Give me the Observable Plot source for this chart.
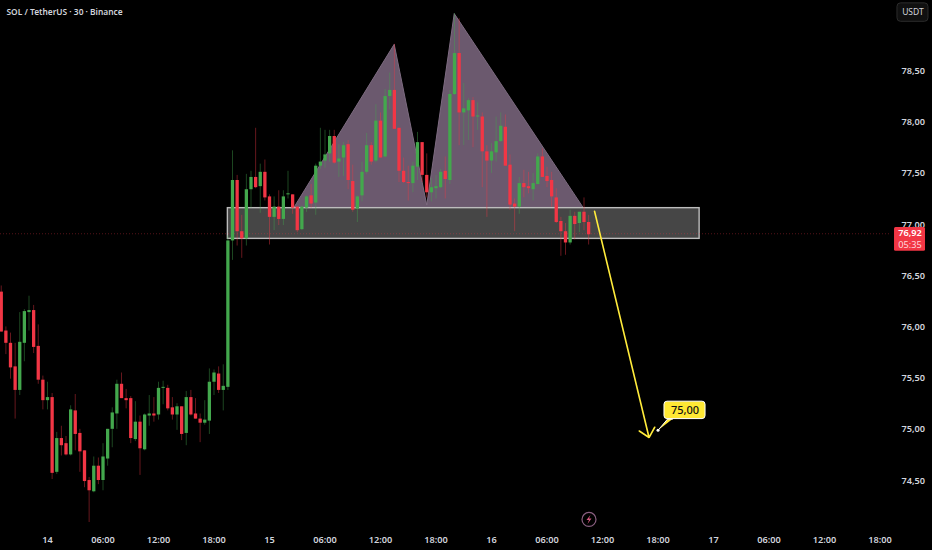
<!DOCTYPE html>
<html>
<head>
<meta charset="utf-8">
<script src="https://cdn.jsdelivr.net/npm/d3@7"></script>
<script src="https://cdn.jsdelivr.net/npm/@observablehq/plot@0.6"></script>
<style>
html,body{margin:0;padding:0;background:#000;}
svg{display:block;}
</style>
</head>
<body>
<div id="chart"></div>
<script>
// Half-hourly candles, first one at -5 h relative to 14th 00:00
const firstHour = -5;
const opens = [76.35,75.97,75.85,75.62,75.39,75.85,76.15,76.17,75.82,75.49,75.29,75.32,74.59,74.92,74.87,74.76,75.19,74.97,74.80,74.51,74.40,74.65,74.51,74.72,75.01,75.16,75.45,75.31,75.31,74.91,75.08,74.81,75.14,75.16,75.15,75.41,75.41,75.22,75.15,75.23,74.97,75.32,75.16,75.11,75.07,75.09,75.47,75.55,75.39,75.42,
76.85,77.44,76.94,76.87,77.35,77.47,77.38,77.52,77.28,77.08,77.18,77.06,77.30,77.30,77.18,76.96,77.17,77.29,77.22,77.58,77.63,77.70,77.87,77.62,77.66,77.79,77.43,77.16,77.29,77.52,77.78,77.63,78.02,77.67,78.26,78.32,77.95,77.53,77.42,77.41,77.57,77.81,77.49,77.32,77.36,77.37,77.53,77.44,78.28,78.68,78.10,78.12,78.22,78.06,78.06,77.72,77.63,77.71,77.82,77.96,77.59,77.21,77.18,77.41,77.38,77.35,77.40,77.67,77.48,77.44,77.27,77.04,76.94,76.83,77.09,77.02,77.13,77.03];
const closes = [75.96,75.85,75.61,75.39,75.86,76.16,76.17,75.81,75.49,75.29,75.32,74.58,74.92,74.85,74.76,75.20,74.96,74.79,74.50,74.41,74.65,74.51,74.74,75.01,75.17,75.45,75.31,75.29,74.92,75.08,74.82,75.15,75.16,75.14,75.41,75.42,75.21,75.15,75.23,74.96,75.32,75.15,75.11,75.07,75.10,75.47,75.56,75.39,75.43,76.85,
77.44,76.94,76.87,77.35,77.47,77.37,77.52,77.27,77.08,77.18,77.06,77.28,77.31,77.17,76.95,77.18,77.28,77.21,77.58,77.62,77.69,77.87,77.61,77.65,77.78,77.44,77.15,77.28,77.52,77.78,77.62,78.02,77.66,78.26,78.32,77.94,77.53,77.42,77.41,77.58,77.81,77.49,77.32,77.37,77.38,77.52,77.45,78.28,78.68,78.10,78.14,78.22,78.06,78.07,77.72,77.63,77.72,77.82,77.97,77.58,77.20,77.18,77.41,77.37,77.36,77.41,77.67,77.47,77.43,77.28,77.03,76.94,76.83,77.09,77.01,77.13,77.03,76.91];
const highs = [76.41,76.01,75.95,75.85,76.15,76.18,76.31,76.22,76.03,75.53,75.47,75.36,74.98,75.04,74.94,75.24,75.35,75.01,74.80,74.54,74.74,74.73,74.87,75.01,75.22,75.49,75.56,75.40,75.33,75.28,75.14,75.16,75.34,75.32,75.47,75.48,75.44,75.32,75.26,75.23,75.38,75.39,75.31,75.16,75.29,75.60,75.59,75.62,75.64,76.90,
77.73,77.49,77.10,77.50,77.53,77.95,77.60,77.64,77.30,77.28,77.34,77.34,77.53,77.30,77.18,77.19,77.29,77.40,77.60,77.95,77.93,77.93,77.93,77.79,77.81,77.83,77.59,77.29,77.62,77.90,77.81,78.18,78.10,78.33,78.49,78.77,77.95,77.66,77.58,77.62,77.91,77.81,77.70,77.46,77.49,77.55,77.67,78.32,79.07,79.02,78.39,78.24,78.25,78.20,78.10,77.78,77.80,78.06,78.10,78.08,77.69,77.26,77.47,77.54,77.52,77.51,77.70,77.75,77.57,77.52,77.36,77.08,77.02,77.15,77.13,77.13,77.27,77.10];
const lows = [75.96,75.74,75.50,75.11,75.34,75.67,75.97,75.75,75.45,75.20,75.20,74.52,74.57,74.75,74.75,74.75,74.80,74.59,74.44,74.10,74.39,74.47,74.41,74.65,74.83,75.01,75.31,75.21,74.87,74.89,74.56,74.80,75.04,75.08,75.10,75.25,75.19,75.10,75.00,74.90,74.85,75.14,75.11,74.88,75.05,74.96,75.34,75.36,75.19,75.39,
76.66,76.80,76.68,76.80,77.17,77.36,77.12,77.24,76.81,76.95,77.00,77.00,77.26,77.11,76.93,76.95,77.13,77.17,77.10,77.55,77.56,77.62,77.60,77.47,77.48,77.35,77.13,77.03,77.23,77.50,77.59,77.61,77.66,77.66,78.13,77.94,77.42,77.41,77.24,77.32,77.44,77.42,77.27,77.23,77.26,77.36,77.26,77.40,78.27,77.78,77.78,77.83,77.76,77.93,77.37,77.08,77.51,77.62,77.81,77.58,77.15,76.94,77.11,77.27,77.31,77.24,77.40,77.47,77.37,77.18,77.02,76.70,76.71,76.81,76.86,76.93,76.95,76.81];

const priceTicks = [74.5,75,75.5,76,76.5,77,77.5,78,78.5];
const timeTicks = [0,6,12,18,24,30,36,42,48,54,60,66,72,78,84,90];
const timeLabels = ["14","06:00","12:00","18:00","15","06:00","12:00","18:00","16","06:00","12:00","18:00","17","06:00","12:00","18:00"];

const patternHours = [26.59,37.48,41.0,43.97,57.95];
const patternPrices = [77.17,78.77,77.20,79.07,77.17];
const zoneHours = [19.5,70.5];
const zonePrices = [76.87,77.17];
const arrowHours = [59.14,65.03];
const arrowPrices = [77.14,74.93];
const lastPrice = 76.92;
const title = "SOL / TetherUS · 30 · Binance";
const boltHours = [58.70,58.27,58.54,58.38,58.81,58.54];
const boltPrices = [74.174,74.125,74.125,74.086,74.138,74.138];

const up = "#43a84d", down = "#f23645";
const font = "'Noto Sans', sans-serif";
const idx = d3.range(opens.length);
const hour = i => firstHour + i * 0.5;
const colorOf = i => closes[i] >= opens[i] ? up : down;
const pattern = patternHours.map((h, i) => ({h, p: patternPrices[i]}));
const bolt = boltHours.map((h, i) => ({h, p: boltPrices[i]}));
const tail = [{h:66.0,p:75.0},{h:67.03,p:75.11},{h:67.57,p:75.11}];

const chart = Plot.plot({
  width: 932, height: 550,
  marginLeft: 0, marginRight: 42, marginTop: 0, marginBottom: 20,
  x: {domain: [-47/9.25, 843/9.25]},
  y: {domain: [74.022, 79.198]},
  color: {type: "identity"},
  style: {background: "#000", color: "#d1d4dc", fontFamily: font, fontSize: "9.2px", overflow: "visible"},
  marks: [
    Plot.line(pattern, {x: "h", y: "p", fill: "#6b596e", stroke: "#7d6b80", strokeWidth: 1}),
    Plot.rect([0], {x1: () => zoneHours[0], x2: () => zoneHours[1], y1: () => zonePrices[0], y2: () => zonePrices[1],
      fill: "#464646", stroke: "#bdbdbd", strokeWidth: 1.4}),
    Plot.ruleY([lastPrice], {stroke: down, strokeOpacity: 0.35, strokeDasharray: "1 2"}),
    Plot.ruleX(idx, {x: hour, y1: i => lows[i], y2: i => highs[i], stroke: colorOf, strokeOpacity: 0.42, strokeWidth: 1}),
    Plot.ruleX(idx, {x: hour, y1: i => opens[i], y2: i => closes[i], stroke: colorOf, strokeWidth: 3.3}),
    Plot.arrow([0], {x1: () => arrowHours[0], y1: () => arrowPrices[0], x2: () => arrowHours[1], y2: () => arrowPrices[1],
      stroke: "#ffeb3b", strokeWidth: 1.6, bend: 0, headLength: 11, headAngle: 85}),
    Plot.dot([0], {x: () => tail[0].h, y: () => tail[0].p, r: 1.5, fill: "#fff"}),
    Plot.line(tail, {x: "h", y: "p", fill: "#ffe834", stroke: "#fff", strokeWidth: 1}),
    Plot.rect([0], {x1: () => 66.7, x2: () => 71.14, y1: () => 75.11, y2: () => 75.28, fill: "#ffe834", stroke: "#fff", strokeWidth: 1, rx: 3}),
    Plot.text(["75,00"], {x: () => 68.92, y: () => 75.195, fill: "#111", fontSize: 11, fontWeight: 500}),
    Plot.axisX({ticks: timeTicks, tickFormat: h => timeLabels[timeTicks.indexOf(h)], tickSize: 0, tickPadding: 6, label: null,
      fill: "#d1d4dc", fontSize: 9.2, fontWeight: 600}),
    Plot.axisY({anchor: "right", ticks: priceTicks, tickFormat: d => d.toFixed(2).replace(".", ","), tickSize: 0, tickPadding: 11, label: null,
      fill: "#d1d4dc", textAnchor: "start", fontSize: 9.2, fontWeight: 600, dy: -1}),
    Plot.rect([0], {x1: () => 91.57, x2: () => 94.92, y1: () => 76.75, y2: () => 76.98, fill: "#f23645", rx: 1.5}),
    Plot.text(["76,92"], {x: () => 93.25, y: () => 76.925, fill: "#fff", fontSize: 9.2, fontWeight: 600}),
    Plot.text(["05:35"], {x: () => 93.25, y: () => 76.81, fill: "#ffd7db", fontSize: 9.2}),
    Plot.rect([0], {x1: () => 91.89, x2: () => 95.24, y1: () => 78.99, y2: () => 79.17, fill: "#101010", stroke: "#2c2c2c", rx: 3.5}),
    Plot.text(["USDT"], {x: () => 93.56, y: () => 79.08, fill: "#d1d4dc", fontSize: 8.5}),
    Plot.dot([0], {x: () => 58.54, y: () => 74.13, r: 7, stroke: "#8a5f80", strokeWidth: 1.2, fill: "#000"}),
    Plot.line(bolt, {x: "h", y: "p", fill: "#d6577f", stroke: "none"}),
    Plot.text([title], {frameAnchor: "top-left", dx: 6, dy: 9, fill: "#d1d4dc", fontSize: 8.4, fontWeight: 600})
  ]
});
document.getElementById("chart").append(chart);
</script>
</body>
</html>
